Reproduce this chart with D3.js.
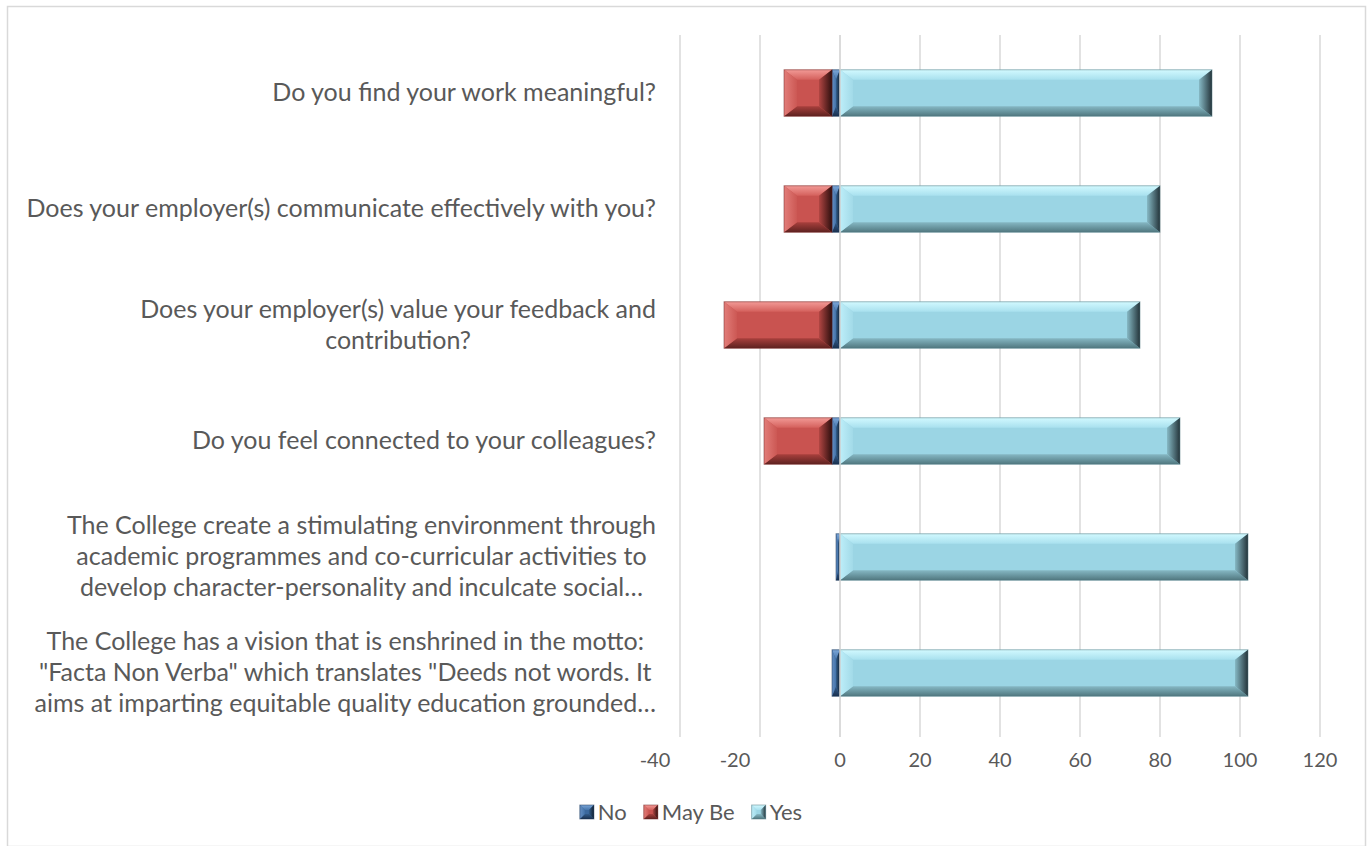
<!DOCTYPE html>
<meta charset="utf-8">
<style>
body {
  margin: 0;
  background: #fff;
  font-family: Lato, "Open Sans", sans-serif;
}
text {
  fill: #595959;
}
</style>
<body>
<script src="https://d3js.org/d3.v7.min.js"></script>
<script>

// category labels, already wrapped as the chart shows them
const categories = [
  ["Do you find your work meaningful?"],
  ["Does your employer(s) communicate effectively with you?"],
  ["Does your employer(s) value your feedback and", "contribution?"],
  ["Do you feel connected to your colleagues?"],
  ["The College create a stimulating environment through",
   "academic programmes and co-curricular activities to",
   "develop character-personality and inculcate social\u2026"],
  ["The College has a vision that is enshrined in the motto:",
   "\"Facta Non Verba\" which translates \"Deeds not words. It",
   "aims at imparting equitable quality education grounded\u2026"]
];

const seriesNames = ["No", "May Be", "Yes"];

// No and May Be are plotted on the negative side
const noValues    = [-2, -2, -2, -2, -1, -2];
const maybeValues = [-12, -12, -27, -17, 0, 0];
const yesValues   = [93, 80, 75, 85, 102, 102];

const tickValues = [-40, -20, 0, 20, 40, 60, 80, 100, 120];

const width = 1371, height = 846;
const plot = {left: 680, right: 1320, top: 35, bottom: 731};

// bevel colours for each series: [outer edge, inner edge] per facet
const looks = {
  "No": {base: "#3b689d", line: "#1d3553",
    top: ["#7ba6d8", "#4675ab"], bottom: ["#1a3150", "#335c8b"],
    left: ["#6690c4", "#4372a8"], right: ["#101e2e", "#34608f"]},
  "May Be": {base: "#c95350", line: "#6e2624",
    top: ["#f29a96", "#d4605c"], bottom: ["#5e2220", "#a9403d"],
    left: ["#e27d79", "#cc5854"], right: ["#2e0f0e", "#b24643"]},
  "Yes": {base: "#9bd5e4", line: "#4f7780",
    top: ["#d2f9ff", "#a8e0ee"], bottom: ["#50777f", "#86b8c4"],
    left: ["#bdeef9", "#a2dae8"], right: ["#24343a", "#86b9c5"]}
};

const rows = categories.map((c, i) => ({
  i: i,
  "No": noValues[i],
  "May Be": maybeValues[i],
  "Yes": yesValues[i]
}));

const stacked = d3.stack()
    .keys(seriesNames)
    .offset(d3.stackOffsetDiverging)(rows);

const x = d3.scaleLinear()
    .domain([-40, 120])
    .range([plot.left, plot.right]);

const y = d3.scaleBand()
    .domain(d3.range(categories.length))
    .range([plot.top, plot.bottom])
    .paddingInner(0.6)
    .paddingOuter(0.3);

const svg = d3.select("body").append("svg")
    .attr("width", width)
    .attr("height", height);

// gradients for the bevel facets
const defs = svg.append("defs");
const dirs = {
  top:    [0, 0, 0, 1],
  bottom: [0, 1, 0, 0],
  left:   [0, 0, 1, 0],
  right:  [1, 0, 0, 0]
};
seriesNames.forEach((name, si) => {
  Object.keys(dirs).forEach(side => {
    const d = dirs[side];
    const grad = defs.append("linearGradient")
        .attr("id", `g${si}${side}`)
        .attr("x1", d[0]).attr("y1", d[1])
        .attr("x2", d[2]).attr("y2", d[3]);
    grad.append("stop").attr("offset", 0).attr("stop-color", looks[name][side][0]);
    grad.append("stop").attr("offset", 1).attr("stop-color", looks[name][side][1]);
  });
});

// outer chart border
svg.append("rect")
    .attr("x", 7.5).attr("y", 6.5)
    .attr("width", 1358).attr("height", 840)
    .attr("fill", "#fff")
    .attr("stroke", "#d9d9d9")
    .attr("stroke-width", 1.5);

// vertical gridlines
svg.append("g")
  .selectAll("line")
  .data(tickValues)
  .join("line")
    .attr("x1", d => x(d)).attr("x2", d => x(d))
    .attr("y1", plot.top).attr("y2", plot.bottom + 6)
    .attr("stroke", "#d9d9d9")
    .attr("stroke-width", 1.5);

// tick labels (Excel pushes the negative ones to the left)
svg.append("g")
  .selectAll("text")
  .data(tickValues)
  .join("text")
    .attr("x", d => x(d) + (d < 0 ? -25 : 0))
    .attr("y", 767)
    .attr("text-anchor", "middle")
    .style("font-size", "20px")
    .text(d => d);

function bevel(g, x0, x1, y0, y1, name, bx, by) {
  const look = looks[name], si = seriesNames.indexOf(name);
  const w = x1 - x0, h = y1 - y0;
  if (w <= 0) return;
  const b = Math.min(bx, w / 2), v = Math.min(by, h / 2);
  const pts = {
    top:    [[x0, y0], [x1, y0], [x1 - b, y0 + v], [x0 + b, y0 + v]],
    bottom: [[x0, y1], [x1, y1], [x1 - b, y1 - v], [x0 + b, y1 - v]],
    left:   [[x0, y0], [x0 + b, y0 + v], [x0 + b, y1 - v], [x0, y1]],
    right:  [[x1, y0], [x1 - b, y0 + v], [x1 - b, y1 - v], [x1, y1]]
  };
  g.append("rect")
      .attr("x", x0).attr("y", y0)
      .attr("width", w).attr("height", h)
      .attr("fill", look.base);
  for (const side of ["top", "bottom", "left", "right"]) {
    g.append("path")
        .attr("d", "M" + pts[side].join("L") + "Z")
        .attr("fill", `url(#g${si}${side})`);
  }
  g.append("rect")
      .attr("x", x0).attr("y", y0)
      .attr("width", w).attr("height", h)
      .attr("fill", "none")
      .attr("stroke", look.line)
      .attr("stroke-opacity", 0.5)
      .attr("stroke-width", 1);
}

const bars = svg.append("g");

stacked.forEach(series => {
  series.forEach((d, i) => {
    const a = x(Math.min(d[0], d[1])), b = x(Math.max(d[0], d[1]));
    bevel(bars, a, b, y(i), y(i) + y.bandwidth(), series.key, 13, 10);
  });
});

// category axis line on top of the bars
svg.append("line")
    .attr("x1", x(0)).attr("x2", x(0))
    .attr("y1", plot.top).attr("y2", plot.bottom + 6)
    .attr("stroke", "#d9d9d9")
    .attr("stroke-width", 1.5);

// category labels: block right aligned to the axis, lines centred
const lineHeight = 31;
const labels = svg.append("g");
categories.forEach((lines, i) => {
  const cy = y(i) + y.bandwidth() / 2;
  const g = labels.append("g");
  const texts = lines.map((t, k) => g.append("text")
      .attr("y", cy + (k - (lines.length - 1) / 2) * lineHeight + 8)
      .attr("text-anchor", "middle")
      .style("font-size", "25px")
      .text(t));
  const maxW = d3.max(texts, t => t.node().getComputedTextLength());
  texts.forEach(t => t.attr("x", 656 - maxW / 2));
});

// legend
const legend = svg.append("g");
let lx = 0;
seriesNames.forEach(name => {
  const item = legend.append("g").attr("transform", `translate(${lx},0)`);
  bevel(item, 0, 14, -7, 7, name, 5, 5);
  const t = item.append("text")
      .attr("x", 18)
      .attr("y", 8)
      .style("font-size", "22px")
      .text(name);
  lx += 18 + t.node().getComputedTextLength() + 17;
});
lx -= 17;
legend.attr("transform", `translate(${691 - lx / 2},812)`);

</script>
